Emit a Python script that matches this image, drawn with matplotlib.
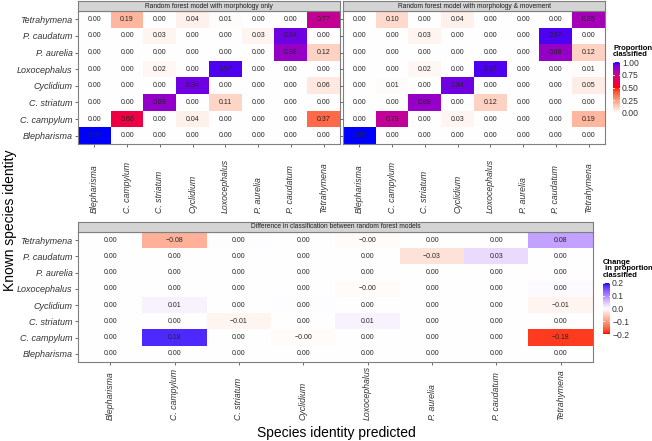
import numpy as np
import matplotlib
matplotlib.use("Agg")
import matplotlib.pyplot as plt
from matplotlib.colors import ListedColormap, Normalize, to_rgb
from matplotlib.transforms import blended_transform_factory

plt.rcParams['font.family'] = ['Liberation Sans', 'DejaVu Sans']

# species, columns = predicted (left to right), rows = known (top to bottom)
species = ["Blepharisma", "C. campylum", "C. striatum", "Cyclidium",
           "Loxocephalus", "P. aurelia", "P. caudatum", "Tetrahymena"]
rows = species[::-1]

morph_only = [
    [0.00, 0.19, 0.00, 0.04, 0.01, 0.00, 0.00, 0.77],
    [0.00, 0.00, 0.03, 0.00, 0.00, 0.03, 0.94, 0.00],
    [0.00, 0.00, 0.00, 0.00, 0.00, 0.00, 0.88, 0.12],
    [0.00, 0.00, 0.02, 0.00, 0.97, 0.00, 0.00, 0.00],
    [0.00, 0.00, 0.00, 0.94, 0.00, 0.00, 0.00, 0.06],
    [0.00, 0.00, 0.89, 0.00, 0.11, 0.00, 0.00, 0.00],
    [0.00, 0.60, 0.00, 0.04, 0.00, 0.00, 0.00, 0.37],
    [1.00, 0.00, 0.00, 0.00, 0.00, 0.00, 0.00, 0.00],
]
morph_move = [
    [0.00, 0.10, 0.00, 0.04, 0.00, 0.00, 0.00, 0.85],
    [0.00, 0.00, 0.03, 0.00, 0.00, 0.00, 0.97, 0.00],
    [0.00, 0.00, 0.00, 0.00, 0.00, 0.00, 0.88, 0.12],
    [0.00, 0.00, 0.02, 0.00, 0.97, 0.00, 0.00, 0.01],
    [0.00, 0.01, 0.00, 0.94, 0.00, 0.00, 0.00, 0.05],
    [0.00, 0.00, 0.88, 0.00, 0.12, 0.00, 0.00, 0.00],
    [0.00, 0.78, 0.00, 0.03, 0.00, 0.00, 0.00, 0.19],
    [1.00, 0.00, 0.00, 0.00, 0.00, 0.00, 0.00, 0.00],
]
difference = [
    [0.00, -0.08, 0.003, 0.00, -0.004, 0.00, 0.00, 0.08],
    [0.00, 0.00, 0.00, 0.00, 0.00, -0.03, 0.03, 0.00],
    [0.00, 0.00, 0.00, 0.00, 0.00, 0.00, 0.00, 0.00],
    [0.00, 0.00, 0.00, 0.00, -0.004, 0.00, 0.00, 0.004],
    [0.00, 0.01, 0.00, 0.003, 0.00, 0.00, 0.00, -0.01],
    [0.00, 0.00, -0.01, 0.00, 0.01, 0.00, 0.00, 0.00],
    [0.00, 0.18, 0.00, -0.004, 0.00, 0.00, 0.00, -0.18],
    [0.00, 0.00, 0.00, 0.00, 0.00, 0.00, 0.00, 0.00],
]
titles = ["Random forest model with morphology only",
          "Random forest model with morphology & movement",
          "Difference in classification between random forest models"]


# gradients interpolated in CIE Lab, like ggplot's colour scales
WHITE = np.array([0.95047, 1.0, 1.08883])
M = np.array([[0.4124564, 0.3575761, 0.1804375],
              [0.2126729, 0.7151522, 0.0721750],
              [0.0193339, 0.1191920, 0.9503041]])

def rgb2lab(c):
    c = np.array(to_rgb(c))
    lin = np.where(c <= 0.04045, c / 12.92, ((c + 0.055) / 1.055) ** 2.4)
    xyz = M @ lin / WHITE
    f = np.where(xyz > (6 / 29) ** 3, np.cbrt(xyz), xyz / (3 * (6 / 29) ** 2) + 4 / 29)
    return np.array([116 * f[1] - 16, 500 * (f[0] - f[1]), 200 * (f[1] - f[2])])

def lab2rgb(lab):
    fy = (lab[0] + 16) / 116
    f = np.array([fy + lab[1] / 500, fy, fy - lab[2] / 200])
    xyz = np.where(f > 6 / 29, f ** 3, 3 * (6 / 29) ** 2 * (f - 4 / 29)) * WHITE
    lin = np.linalg.solve(M, xyz)
    lin = np.clip(lin, 0, 1)
    c = np.where(lin <= 0.0031308, 12.92 * lin, 1.055 * lin ** (1 / 2.4) - 0.055)
    return np.clip(c, 0, 1)

def lab_cmap(colours, n=256):
    labs = [rgb2lab(c) for c in colours]
    pos = np.linspace(0, 1, len(colours))
    out = []
    for t in np.linspace(0, 1, n):
        k = min(np.searchsorted(pos, t, side='right') - 1, len(colours) - 2)
        u = (t - pos[k]) / (pos[k + 1] - pos[k])
        out.append(lab2rgb(labs[k] * (1 - u) + labs[k + 1] * u))
    return ListedColormap(out)

prop_cmap = lab_cmap(["white", "red", "blue"])
diff_cmap = lab_cmap(["red", "white", "blue"])

W, H = 652, 441
fig = plt.figure(figsize=(W / 100, H / 100), dpi=100)

def px_axes(x0, y0, x1, y1):
    return fig.add_axes([x0 / W, 1 - y1 / H, (x1 - x0) / W, (y1 - y0) / H])

def panel(box, strip_y, data, cmap, norm, title, ylabels, label_bottom):
    ax = px_axes(*box)
    vals = np.array(data)
    ax.imshow(vals, cmap=cmap, norm=norm, aspect='auto', interpolation='nearest',
              extent=(-0.5, 7.5, 7.5, -0.5))
    for i in range(8):
        for j in range(8):
            s = f"{vals[i, j]:.2f}".replace("-", "\u2212")
            ax.text(j, i, s, ha='center', va='center', fontsize=5, color='#262626')
    ax.set_xlim(-0.5, 7.5)
    ax.set_ylim(7.5, -0.5)
    ax.set_xticks(range(8))
    ax.set_xticklabels([])
    ax.set_yticks(range(8))
    if ylabels:
        ax.set_yticklabels(rows, fontsize=6.5, style='italic', color='#333333')
    else:
        ax.set_yticklabels([])
        ax.tick_params(axis='y', length=0)
    ax.tick_params(length=2.5, width=0.6, color='#555555', pad=1.5)
    for sp in ax.spines.values():
        sp.set_color('#7F7F7F')
        sp.set_linewidth(0.8)
    # rotated species labels under the panel
    tr = blended_transform_factory(ax.transData, fig.transFigure)
    for j, name in enumerate(species):
        ax.text(j, 1 - label_bottom / H, name, rotation=90, ha='center', va='bottom',
                fontsize=6.3, style='italic', color='#333333', transform=tr)
    # strip
    st = px_axes(box[0], strip_y, box[2], box[1])
    st.set_facecolor('#D4D4D4')
    st.set_xticks([])
    st.set_yticks([])
    for sp in st.spines.values():
        sp.set_color('#7F7F7F')
        sp.set_linewidth(0.8)
    st.text(0.5, 0.5, title, ha='center', va='center', fontsize=4.8,
            color='#1A1A1A', transform=st.transAxes)
    return ax

pnorm = Normalize(0, 1)
dnorm = Normalize(-0.2, 0.2)
ax1 = panel((78, 11, 340, 144), 1, morph_only, prop_cmap, pnorm, titles[0], True, 213)
ax2 = panel((343, 11, 605, 144), 1, morph_move, prop_cmap, pnorm, titles[1], False, 213)
ax3 = panel((78, 232, 593, 362), 222, difference, diff_cmap, dnorm, titles[2], True, 420)

# colour bars
def colorbar(box, cmap, norm, ticks, labels, title, title_y):
    cax = px_axes(*box)
    grad = np.linspace(norm.vmin, norm.vmax, 200).reshape(-1, 1)
    cax.imshow(grad, cmap=cmap, norm=norm, aspect='auto', origin='lower',
               extent=(0, 1, norm.vmin, norm.vmax))
    cax.set_xlim(0, 1)
    cax.set_ylim(norm.vmin, norm.vmax)
    for t in ticks:
        cax.plot([0, 0.2], [t, t], color='white', lw=0.6)
        cax.plot([0.8, 1], [t, t], color='white', lw=0.6)
    cax.set_xticks([])
    cax.set_yticks(ticks)
    cax.set_yticklabels(labels, fontsize=6.2, color='#333333')
    cax.yaxis.tick_right()
    cax.tick_params(axis='y', length=0, pad=1.5)
    for sp in cax.spines.values():
        sp.set_visible(False)
    fig.text(box[0] / W, 1 - title_y / H, title, fontsize=5.5, fontweight='bold',
             ha='left', va='bottom', linespacing=0.9)

colorbar((613, 62, 620, 113), prop_cmap, pnorm, [0, 0.25, 0.5, 0.75, 1.0],
         ["0.00", "0.25", "0.50", "0.75", "1.00"], "Proportion\nclassified", 58)
colorbar((603, 283, 610, 334), diff_cmap, dnorm, [-0.2, -0.1, 0.0, 0.1, 0.2],
         ["\u22120.2", "\u22120.1", "0.0", "0.1", "0.2"],
         "Change\n in proportion\nclassified", 279)

fig.text(10 / W, 1 - 220 / H, "Known species identity", rotation=90, ha='center',
         va='center', fontsize=10)
fig.text(336 / W, 1 - 433 / H, "Species identity predicted", ha='center',
         va='center', fontsize=10)

fig.savefig("out.png", dpi=100)
